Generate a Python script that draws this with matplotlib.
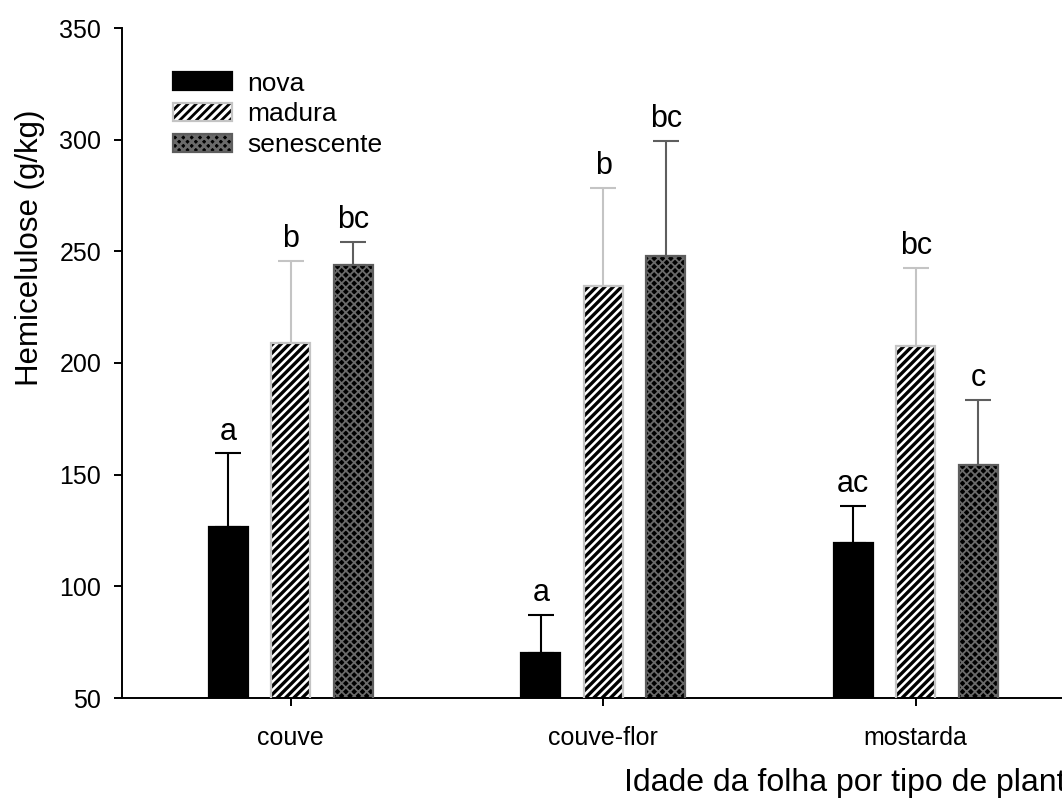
import numpy as np
import matplotlib
matplotlib.use("Agg")
import matplotlib.pyplot as plt
from matplotlib.patches import Patch

plt.rcParams['font.family'] = ['Liberation Sans', 'DejaVu Sans']
plt.rcParams['hatch.linewidth'] = 2.0

plantas = ["couve", "couve-flor", "mostarda"]
idades = ["nova", "madura", "senescente"]

medias = {
    "nova": [126.5, 70.0, 119.5],
    "madura": [209.0, 234.5, 207.5],
    "senescente": [244.0, 248.0, 154.5],
}
erros = {
    "nova": [33.0, 17.0, 16.5],
    "madura": [36.5, 44.0, 35.0],
    "senescente": [10.0, 51.5, 29.0],
}
letras = {
    "nova": ["a", "a", "ac"],
    "madura": ["b", "b", "bc"],
    "senescente": ["bc", "bc", "c"],
}

estilos = {
    "nova": dict(face="black", hatch=None, hcolor="black", hlw=1.0, edge="black", err="black"),
    "madura": dict(face="white", hatch="////", hcolor="black", hlw=2.4, edge="#c4c4c4", err="#c4c4c4"),
    "senescente": dict(face="black", hatch="xxxx", hcolor="#6a6a6a", hlw=1.3, edge="#5e5e5e", err="#5e5e5e"),
}


def preenche(patches, st):
    # hatch line width per bar when the installed matplotlib supports it
    for p in patches:
        if hasattr(p, "set_hatch_linewidth"):
            p.set_hatch_linewidth(st["hlw"])


fig = plt.figure(figsize=(10.62, 7.98), dpi=100)
ax = fig.add_axes([122 / 1062, 1 - 698 / 798, 962.5 / 1062, 670 / 798])

x = np.arange(len(plantas))
largura = 0.124
deslocamento = [-0.2, 0.0, 0.2]

for k, idade in enumerate(idades):
    st = estilos[idade]
    pos = x + deslocamento[k]
    with plt.rc_context({"hatch.linewidth": st["hlw"]}):
        barras = ax.bar(pos, medias[idade], largura, color=st["face"], edgecolor=st["hcolor"],
                        hatch=st["hatch"], linewidth=0, zorder=2)
    preenche(barras, st)
    ax.bar(pos, medias[idade], largura, fill=False, edgecolor=st["edge"],
           linewidth=1.6, zorder=3)
    ax.errorbar(pos, medias[idade], yerr=[np.zeros(3), erros[idade]], fmt="none",
                ecolor=st["err"], elinewidth=1.5, capsize=9.5, capthick=1.5, zorder=1)
    for xi, m, e, t in zip(pos, medias[idade], erros[idade], letras[idade]):
        ax.annotate(t, (xi, m + e), xytext=(0, 5), textcoords="offset points",
                    ha="center", va="bottom", fontsize=22)

ax.set_xlim(-0.54, 2.54)
ax.set_ylim(50, 350)
ax.set_yticks(np.arange(50, 351, 50))
ax.set_xticks(x)
ax.set_xticklabels(plantas)
ax.tick_params(axis="both", direction="out", length=6, width=1.4, labelsize=18)
ax.tick_params(axis="x", pad=14)
ax.tick_params(axis="y", pad=9)

for lado in ["top", "right"]:
    ax.spines[lado].set_visible(False)
for lado in ["left", "bottom"]:
    ax.spines[lado].set_linewidth(1.4)

fig.text(30 / 1062, 1 - 248 / 798, "Hemicelulose (g/kg)", rotation=90,
         ha="center", va="center", fontsize=22.5)
fig.text(624 / 1062, 1 - 783 / 798, "Idade da folha por tipo de planta",
         ha="left", va="center", fontsize=23)

handles = []
for idade in idades:
    st = estilos[idade]
    with plt.rc_context({"hatch.linewidth": st["hlw"]}):
        fundo = Patch(facecolor=st["face"], edgecolor=st["hcolor"], hatch=st["hatch"], linewidth=0)
    preenche([fundo], st)
    borda = Patch(fill=False, edgecolor=st["edge"], linewidth=1.6)
    handles.append((fundo, borda))
leg = ax.legend(handles, idades, loc="upper left", bbox_to_anchor=(0.053, 0.935),
                frameon=False, fontsize=19, handlelength=2.25, handleheight=0.68,
                handletextpad=0.55, labelspacing=0.26, borderaxespad=0, borderpad=0)

fig.savefig("out.png", dpi=100)
